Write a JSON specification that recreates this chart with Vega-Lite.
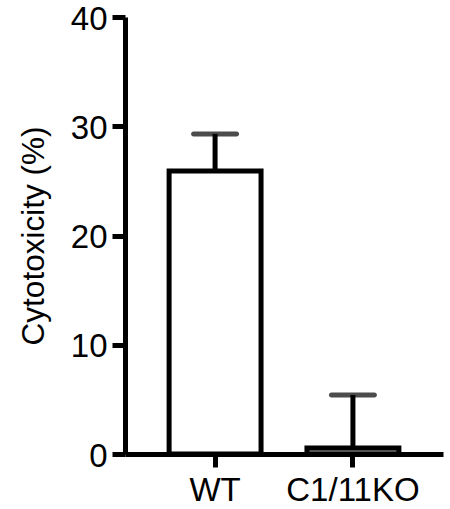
{
  "$schema": "https://vega.github.io/schema/vega-lite/v6.json",
  "autosize": "none",
  "width": 318,
  "height": 437,
  "padding": {"left": 125, "top": 17, "right": 7, "bottom": 55},
  "background": "white",
  "config": {
    "view": {"stroke": null}
  },
  "data": {
    "values": [
      {"group": "WT", "value": 25.9, "upper": 29.3},
      {"group": "C1/11KO", "value": 0.55, "upper": 5.4}
    ]
  },
  "encoding": {
    "x": {
      "field": "group",
      "type": "nominal",
      "sort": ["WT", "C1/11KO"],
      "scale": {"paddingInner": 0.333, "paddingOuter": 0.32},
      "axis": {
        "title": null,
        "labelAngle": 0,
        "labelPadding": 7,
        "grid": false,
        "domainColor": "black",
        "domainWidth": 5,
        "tickColor": "black",
        "tickWidth": 5,
        "tickSize": 13,
        "labelColor": "black",
        "labelFont": "Liberation Sans",
        "labelFontSize": 33
      }
    }
  },
  "layer": [
    {
      "mark": {"type": "rule", "stroke": "black", "strokeWidth": 5},
      "encoding": {
        "y": {"field": "value", "type": "quantitative"},
        "y2": {"field": "upper"}
      }
    },
    {
      "mark": {"type": "tick", "color": "black", "size": 48, "thickness": 5, "cornerRadius": 2.5},
      "encoding": {
        "y": {"field": "upper", "type": "quantitative"}
      }
    },
    {
      "mark": {"type": "bar", "stroke": "black", "strokeWidth": 5},
      "encoding": {
        "y": {
          "field": "value",
          "type": "quantitative",
          "scale": {"domain": [0, 40], "nice": false},
          "axis": {
            "title": "Cytotoxicity (%)",
            "values": [0, 10, 20, 30, 40],
            "labelPadding": 5,
            "labelOffset": 2,
            "titlePadding": 20,
            "grid": false,
            "domainColor": "black",
            "domainWidth": 5,
            "tickColor": "black",
            "tickWidth": 5,
            "tickSize": 13,
            "labelColor": "black",
            "labelFont": "Liberation Sans",
            "labelFontSize": 33,
            "titleFont": "Liberation Sans",
            "titleFontSize": 31.5,
            "titleFontWeight": "normal",
            "titleColor": "black"
          }
        },
        "fill": {
          "field": "group",
          "type": "nominal",
          "scale": {"domain": ["WT", "C1/11KO"], "range": ["white", "#a6a6a6"]},
          "legend": null
        }
      }
    }
  ]
}
